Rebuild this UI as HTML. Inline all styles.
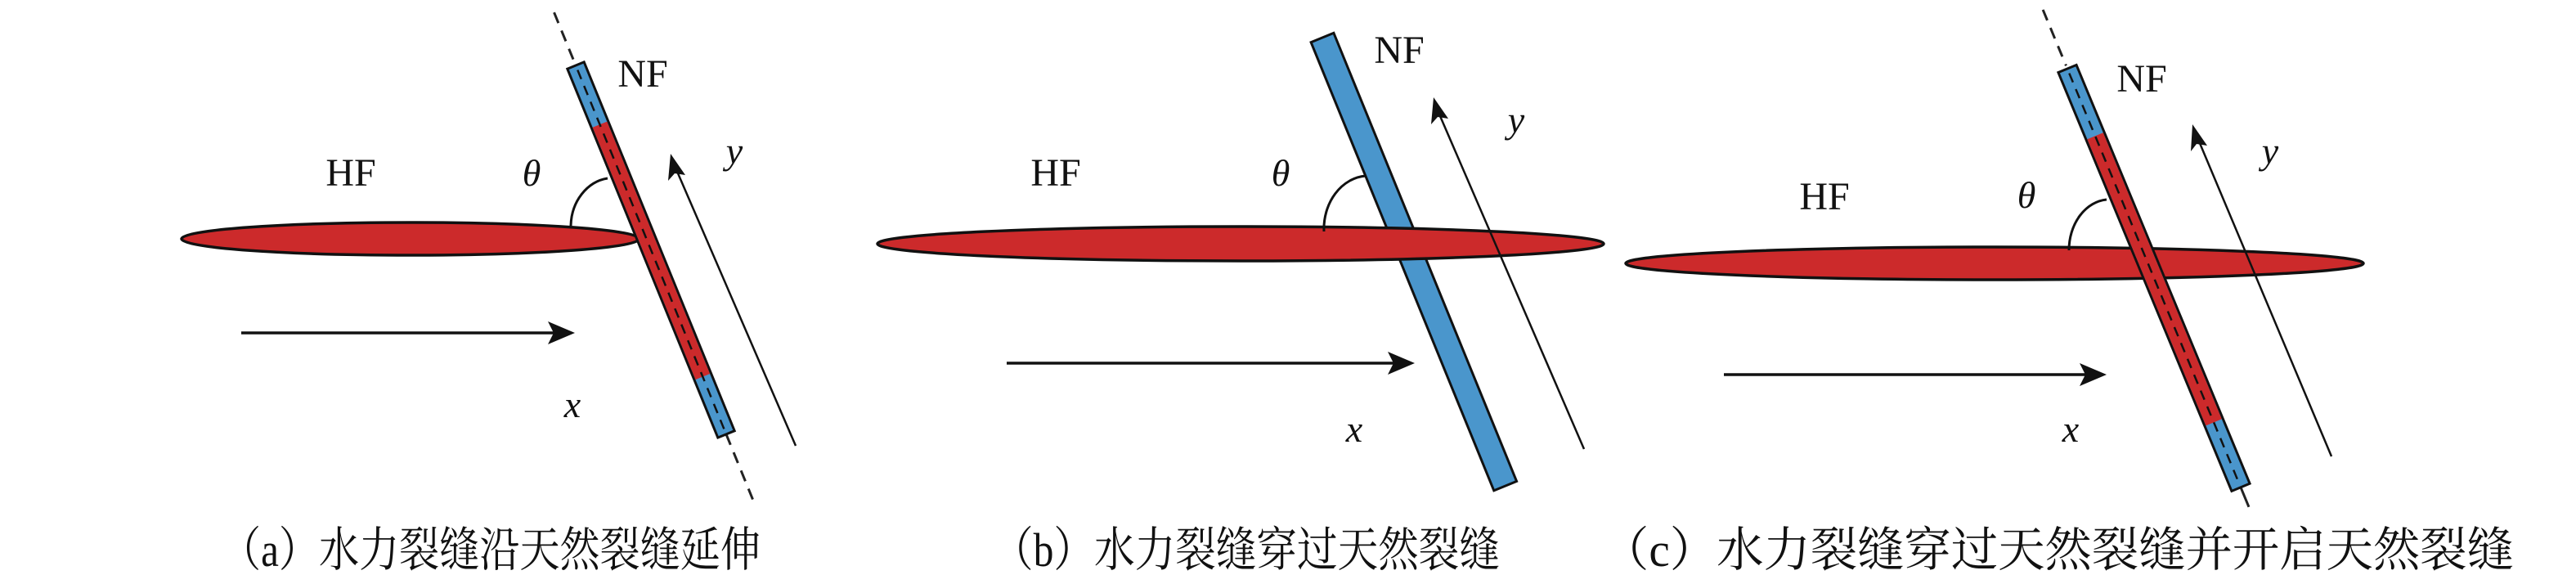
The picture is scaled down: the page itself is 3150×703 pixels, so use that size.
<!DOCTYPE html>
<html><head><meta charset="utf-8"><style>
html,body{margin:0;padding:0;background:#fff;}
svg{display:block;}
</style></head><body>
<svg width="3150" height="703" viewBox="0 0 3150 703" xmlns="http://www.w3.org/2000/svg">
<defs>
<marker id="ah" viewBox="0 0 10 10" refX="9" refY="5" markerWidth="12" markerHeight="12" markerUnits="userSpaceOnUse" orient="auto"></marker>
</defs>
<g font-family="'Liberation Serif', serif" fill="#111">

<!-- ===== Panel a ===== -->
<ellipse cx="502" cy="292" rx="280" ry="20" fill="#cc2a2b" stroke="#111" stroke-width="3.5"/>
<g transform="translate(704,80) rotate(67.8)">
  <line x1="-70" y1="0" x2="-4" y2="0" stroke="#222" stroke-width="3" stroke-dasharray="14 10"/>
  <line x1="487" y1="0" x2="575" y2="0" stroke="#222" stroke-width="3" stroke-dasharray="14 10"/>
  <rect x="0" y="-11" width="487" height="22" fill="#4a96cc" stroke="#111" stroke-width="3"/>
  <rect x="78" y="-9.5" width="333" height="19" fill="#cc2a2b"/>
  <line x1="6" y1="0" x2="482" y2="0" stroke="#111" stroke-width="2.5" stroke-dasharray="12 9"/>
</g>
<path d="M698 276 A 52 60 0 0 1 743 218" fill="none" stroke="#111" stroke-width="3"/>
<text x="429" y="227" font-size="48" text-anchor="middle">HF</text>
<text x="650" y="227" font-size="46" font-style="italic" text-anchor="middle">θ</text>
<text x="786" y="106" font-size="48" text-anchor="middle">NF</text>
<text x="898" y="200" font-size="46" font-style="italic" text-anchor="middle">y</text>
<text x="700" y="510" font-size="46" font-style="italic" text-anchor="middle">x</text>
<line x1="295" y1="407" x2="680" y2="407" stroke="#111" stroke-width="3.5"/>
<polygon points="703,407 670,393 677,407 670,421" fill="#111"/>
<line x1="973" y1="545" x2="826" y2="205" stroke="#111" stroke-width="2.5"/>
<polygon points="820,188 817,221 825,212 838,214" fill="#111"/>
<text x="270" y="692" font-size="58" textLength="660" lengthAdjust="spacingAndGlyphs" font-family="'Liberation Serif','Noto Serif CJK SC',serif">（a）水力裂缝沿天然裂缝延伸</text>

<!-- ===== Panel b ===== -->
<g transform="translate(1617,46) rotate(67.8)">
  <rect x="0" y="-15" width="592" height="30" fill="#4a96cc" stroke="#111" stroke-width="3"/>
</g>
<ellipse cx="1517" cy="298" rx="444" ry="21" fill="#cc2a2b" stroke="#111" stroke-width="3.5"/>
<path d="M1619 283 A 55 65 0 0 1 1670 215" fill="none" stroke="#111" stroke-width="3"/>
<text x="1291" y="227" font-size="48" text-anchor="middle">HF</text>
<text x="1566" y="227" font-size="46" font-style="italic" text-anchor="middle">θ</text>
<text x="1711" y="77" font-size="48" text-anchor="middle">NF</text>
<text x="1854" y="162" font-size="46" font-style="italic" text-anchor="middle">y</text>
<text x="1656" y="540" font-size="46" font-style="italic" text-anchor="middle">x</text>
<line x1="1231" y1="444" x2="1708" y2="444" stroke="#111" stroke-width="3.5"/>
<polygon points="1730,444 1697,430 1704,444 1697,458" fill="#111"/>
<line x1="1937" y1="549" x2="1758" y2="135" stroke="#111" stroke-width="2.5"/>
<polygon points="1753,119 1750,152 1758,143 1771,145" fill="#111"/>
<text x="1214" y="692" font-size="58" textLength="620" lengthAdjust="spacingAndGlyphs" font-family="'Liberation Serif','Noto Serif CJK SC',serif">（b）水力裂缝穿过天然裂缝</text>

<!-- ===== Panel c ===== -->
<ellipse cx="2439" cy="322" rx="451" ry="20" fill="#cc2a2b" stroke="#111" stroke-width="3.5"/>
<g transform="translate(2528,84) rotate(67.5)">
  <line x1="-78" y1="0" x2="-4" y2="0" stroke="#222" stroke-width="3" stroke-dasharray="14 10"/>
  <line x1="554" y1="0" x2="580" y2="0" stroke="#222" stroke-width="3"/>
  <rect x="0" y="-12" width="554" height="24" fill="#4a96cc" stroke="#111" stroke-width="3"/>
  <rect x="89" y="-10.5" width="379" height="21" fill="#cc2a2b"/>
  <line x1="6" y1="0" x2="548" y2="0" stroke="#111" stroke-width="2.5" stroke-dasharray="12 9"/>
</g>
<path d="M2530 306 A 50 62 0 0 1 2576 244" fill="none" stroke="#111" stroke-width="3"/>
<text x="2231" y="256" font-size="48" text-anchor="middle">HF</text>
<text x="2478" y="254" font-size="46" font-style="italic" text-anchor="middle">θ</text>
<text x="2619" y="112" font-size="48" text-anchor="middle">NF</text>
<text x="2776" y="200" font-size="46" font-style="italic" text-anchor="middle">y</text>
<text x="2532" y="540" font-size="46" font-style="italic" text-anchor="middle">x</text>
<line x1="2108" y1="458" x2="2554" y2="458" stroke="#111" stroke-width="3.5"/>
<polygon points="2576,458 2543,444 2550,458 2543,472" fill="#111"/>
<line x1="2851" y1="558" x2="2687" y2="168" stroke="#111" stroke-width="2.5"/>
<polygon points="2681,152 2679,185 2686,176 2699,178" fill="#111"/>
<text x="1959" y="692" font-size="58" textLength="1115" lengthAdjust="spacingAndGlyphs" font-family="'Liberation Serif','Noto Serif CJK SC',serif">（c）水力裂缝穿过天然裂缝并开启天然裂缝</text>

</g>
</svg>
</body></html>
